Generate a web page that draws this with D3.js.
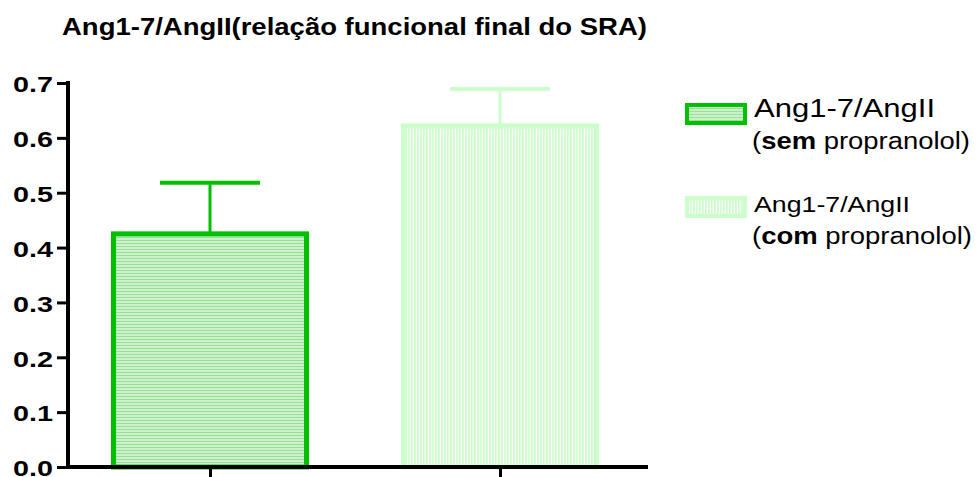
<!DOCTYPE html>
<html>
<head>
<meta charset="utf-8">
<script src="https://cdn.jsdelivr.net/npm/d3@7"></script>
<style>
  html, body { margin: 0; padding: 0; background: #fff; }
  svg { display: block; font-family: "Liberation Sans", Arial, sans-serif; }
</style>
</head>
<body>
<svg id="chart" width="976" height="477"></svg>
<script>
// Ang1-7/AngII ratio, mean with upper SEM bar
const groups = ["sem", "com"];
const means = [0.425, 0.622];
const sems = [0.093, 0.067];
const yTicks = [0.0, 0.1, 0.2, 0.3, 0.4, 0.5, 0.6, 0.7];
const titleText = "Ang1-7/AngII(relação funcional final do SRA)";
const legendNames = ["Ang1-7/AngII", "Ang1-7/AngII"];
const legendBold = ["sem", "com"];

const strokeColors = ["#00c000", "#ccffcc"];

const svg = d3.select("#chart");
const defs = svg.append("defs");

// horizontal stripes for the first group
const p1 = defs.append("pattern").attr("id", "hstripe")
  .attr("patternUnits", "userSpaceOnUse").attr("width", 6).attr("height", 3);
p1.append("rect").attr("width", 6).attr("height", 3).attr("fill", "#ccf2cc");
p1.append("rect").attr("width", 6).attr("height", 1).attr("fill", "#99dd99");

// vertical stripes for the second group
const p2 = defs.append("pattern").attr("id", "vstripe")
  .attr("patternUnits", "userSpaceOnUse").attr("width", 3).attr("height", 6);
p2.append("rect").attr("width", 3).attr("height", 6).attr("fill", "#ffffff");
p2.append("rect").attr("width", 1.8).attr("height", 6).attr("fill", "#ccffcc");

const fills = ["url(#hstripe)", "url(#vstripe)"];

const y = d3.scaleLinear().domain([0, 0.7]).range([467, 83]);
const x = d3.scalePoint().domain(groups).range([65, 645]).padding(0.5);
const barW = 193;
const capW = 100;

// title (wide face: stretched to its set length)
svg.append("text")
  .attr("x", 62).attr("y", 35)
  .attr("font-size", 23).attr("font-weight", "bold")
  .attr("textLength", 585).attr("lengthAdjust", "spacingAndGlyphs")
  .text(titleText);

// error bars (drawn first so the bar border covers the stem base)
groups.forEach((g, i) => {
  const cx = x(g);
  const top = y(means[i] + sems[i]);
  svg.append("line")
    .attr("x1", cx).attr("x2", cx)
    .attr("y1", y(means[i])).attr("y2", top)
    .attr("stroke", strokeColors[i]).attr("stroke-width", 3);
  svg.append("line")
    .attr("x1", cx - capW / 2).attr("x2", cx + capW / 2)
    .attr("y1", top).attr("y2", top)
    .attr("stroke", strokeColors[i]).attr("stroke-width", 4);
});

// bars
svg.selectAll("rect.bar")
  .data(groups)
  .join("rect")
  .attr("class", "bar")
  .attr("x", d => x(d) - barW / 2)
  .attr("width", barW)
  .attr("y", (d, i) => y(means[i]))
  .attr("height", (d, i) => y(0) - y(means[i]))
  .attr("fill", (d, i) => fills[i])
  .attr("stroke", (d, i) => strokeColors[i])
  .attr("stroke-width", 5);

// y axis
const yAxis = svg.append("g")
  .attr("transform", "translate(68,0)")
  .call(d3.axisLeft(y).tickValues(yTicks).tickFormat(d3.format(".1f")).tickSize(11).tickPadding(4));
yAxis.select(".domain").remove();
yAxis.selectAll(".tick line").attr("stroke", "#000").attr("stroke-width", 3);
yAxis.selectAll(".tick text")
  .attr("font-size", 22).attr("font-weight", "bold")
  .attr("font-family", "Liberation Sans, Arial, sans-serif")
  .attr("fill", "#000")
  .attr("dy", "0.4em")
  .attr("textLength", 40).attr("lengthAdjust", "spacingAndGlyphs");
svg.append("line")
  .attr("x1", 68).attr("x2", 68).attr("y1", y(0.7) - 2).attr("y2", y(0) + 2)
  .attr("stroke", "#000").attr("stroke-width", 4);

// x axis
const xAxis = svg.append("g")
  .attr("transform", `translate(0,${y(0)})`)
  .call(d3.axisBottom(x).tickSize(11).tickFormat(""));
xAxis.select(".domain").remove();
xAxis.selectAll(".tick line").attr("stroke", "#000").attr("stroke-width", 3);
svg.append("line")
  .attr("x1", 66).attr("x2", 648).attr("y1", y(0)).attr("y2", y(0))
  .attr("stroke", "#000").attr("stroke-width", 4);

// legend
const legend = svg.append("g");
const swatchY = [103, 196];
const nameSize = [25, 22];
const nameLen = [181, 156];
const nameBase = [117, 212];
const subBase = [149, 244];
const subLen = [218, 220];
groups.forEach((g, i) => {
  legend.append("rect")
    .attr("x", 687).attr("y", swatchY[i] + 2)
    .attr("width", 58).attr("height", 18)
    .attr("fill", fills[i])
    .attr("stroke", strokeColors[i]).attr("stroke-width", 4);
  legend.append("text")
    .attr("x", 754).attr("y", nameBase[i])
    .attr("font-size", nameSize[i])
    .attr("textLength", nameLen[i]).attr("lengthAdjust", "spacingAndGlyphs")
    .text(legendNames[i]);
  const sub = legend.append("text")
    .attr("x", 752).attr("y", subBase[i])
    .attr("font-size", 23)
    .attr("textLength", subLen[i]).attr("lengthAdjust", "spacingAndGlyphs");
  sub.append("tspan").text("(");
  sub.append("tspan").attr("font-weight", "bold").text(legendBold[i]);
  sub.append("tspan").text(" propranolol)");
});
</script>
</body>
</html>
